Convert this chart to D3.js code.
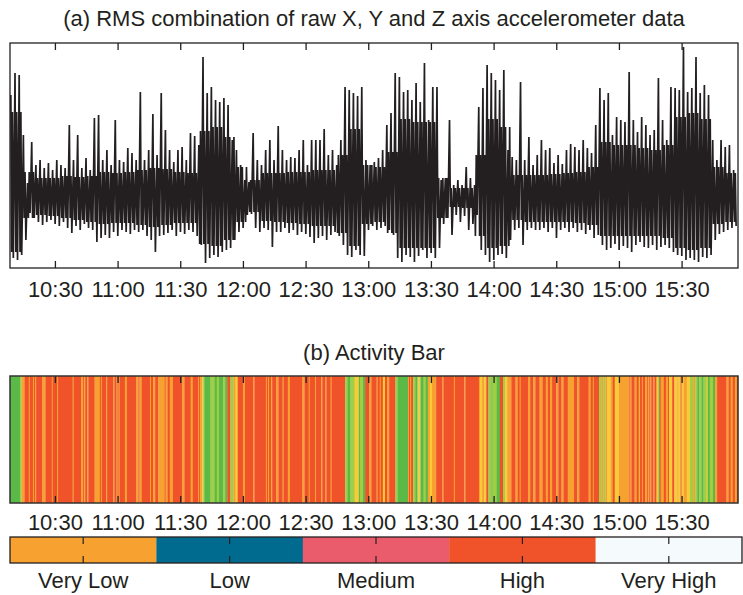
<!DOCTYPE html>
<html><head><meta charset="utf-8">
<script src="https://cdn.jsdelivr.net/npm/d3@7"></script>
<style>
body{margin:0;background:#fff}
svg text{font-family:"Liberation Sans",Arial,Helvetica,sans-serif;fill:#231f20}
</style>
</head><body>
<svg id="chart" width="743" height="595"></svg>
<script>
// ---------------- DATA ----------------
const startClock = [10, 8, 30];   // first sample 10:08:30
const endClock = [15, 57, 0];     // last sample 15:57:00
const tickLabels = ["10:30","11:00","11:30","12:00","12:30","13:00","13:30","14:00","14:30","15:00","15:30"];

// (a) RMS signal, min/max per 2-minute window (arbitrary units, mean removed)
const peakHi = [1.02,1.24,1.22,0.62,0.14,0.55,0.32,0.37,0.29,0.34,
0.27,0.37,0.32,0.29,0.72,0.37,0.62,0.29,0.39,0.27,
0.79,0.82,0.37,0.47,0.32,0.77,0.37,0.35,0.49,0.44,
0.37,1.05,0.37,0.47,0.83,0.42,1.04,0.67,0.47,0.35,
0.47,0.50,0.37,0.64,0.61,0.52,1.40,1.04,1.10,0.97,
0.95,0.99,0.92,0.57,0.47,0.32,0.17,0.15,0.64,0.37,
0.32,0.47,0.57,0.37,0.71,0.47,0.37,0.40,0.39,0.47,
0.57,0.32,0.57,0.57,0.57,0.68,0.42,0.47,0.32,0.57,
1.10,1.07,1.04,1.01,1.10,0.37,0.32,0.35,0.39,0.47,
0.72,0.84,1.24,1.20,1.05,1.07,0.97,1.14,0.95,1.34,
0.77,1.10,1.10,0.17,0.19,0.77,0.12,0.17,0.12,0.30,
0.19,0.12,0.90,1.09,1.32,1.24,1.17,1.07,1.27,0.47,
0.40,0.37,1.15,0.37,0.60,0.32,0.42,0.57,0.47,0.49,
0.34,0.42,0.33,0.47,0.53,0.50,0.47,0.57,0.49,0.44,
0.72,1.09,0.97,1.04,0.62,0.80,0.77,0.75,1.25,0.77,
0.65,0.80,0.72,0.62,0.67,1.19,0.77,0.57,1.10,1.09,
1.07,1.50,1.05,1.09,1.40,1.04,1.12,1.02,0.57,0.37,
0.57,0.50,0.52,0.27];
const peakLo = [-0.61,-0.63,-0.58,-0.43,-0.16,-0.21,-0.25,-0.28,-0.25,-0.23,
-0.27,-0.29,-0.25,-0.31,-0.36,-0.29,-0.33,-0.27,-0.31,-0.33,
-0.45,-0.41,-0.38,-0.41,-0.35,-0.39,-0.33,-0.35,-0.37,-0.33,
-0.35,-0.33,-0.39,-0.43,-0.55,-0.39,-0.38,-0.36,-0.33,-0.39,
-0.35,-0.37,-0.33,-0.35,-0.39,-0.48,-0.66,-0.61,-0.58,-0.60,
-0.55,-0.53,-0.51,-0.43,-0.35,-0.31,-0.18,-0.17,-0.31,-0.35,
-0.31,-0.33,-0.50,-0.35,-0.35,-0.31,-0.36,-0.33,-0.38,-0.35,
-0.37,-0.40,-0.46,-0.41,-0.39,-0.43,-0.38,-0.35,-0.39,-0.48,
-0.58,-0.60,-0.53,-0.58,-0.59,-0.33,-0.29,-0.33,-0.31,-0.29,
-0.33,-0.38,-0.61,-0.65,-0.58,-0.60,-0.65,-0.59,-0.53,-0.61,
-0.56,-0.61,-0.51,-0.27,-0.21,-0.38,-0.18,-0.25,-0.19,-0.33,
-0.27,-0.18,-0.53,-0.58,-0.65,-0.63,-0.58,-0.57,-0.61,-0.43,
-0.33,-0.31,-0.48,-0.33,-0.31,-0.33,-0.33,-0.31,-0.35,-0.31,
-0.41,-0.33,-0.31,-0.35,-0.31,-0.35,-0.33,-0.37,-0.33,-0.41,
-0.38,-0.48,-0.53,-0.51,-0.47,-0.53,-0.49,-0.51,-0.55,-0.48,
-0.45,-0.50,-0.51,-0.48,-0.53,-0.50,-0.48,-0.51,-0.55,-0.58,
-0.59,-0.63,-0.61,-0.63,-0.65,-0.60,-0.61,-0.58,-0.43,-0.37,
-0.35,-0.33,-0.31,-0.29];
// dense band of the signal, per 6-minute window
const coreHi = [0.85,0.25,0.19,0.19,0.21,0.20,0.21,0.25,0.24,0.25,
0.27,0.29,0.28,0.25,0.24,0.66,0.70,0.60,0.30,0.17,
0.24,0.24,0.25,0.25,0.27,0.27,0.42,0.68,0.32,0.30,
0.45,0.78,0.75,0.75,0.19,0.09,0.09,0.42,0.78,0.70,
0.22,0.22,0.22,0.23,0.24,0.25,0.30,0.55,0.52,0.52,
0.49,0.47,0.52,0.80,0.84,0.78,0.30,0.24,0.24];
const coreLo = [-0.55,-0.21,-0.18,-0.19,-0.21,-0.23,-0.25,-0.27,-0.26,-0.26,
-0.28,-0.30,-0.28,-0.26,-0.26,-0.47,-0.49,-0.43,-0.25,-0.15,
-0.24,-0.25,-0.26,-0.27,-0.29,-0.29,-0.36,-0.49,-0.27,-0.25,
-0.36,-0.51,-0.51,-0.51,-0.21,-0.10,-0.11,-0.39,-0.51,-0.49,
-0.23,-0.25,-0.25,-0.25,-0.25,-0.26,-0.28,-0.39,-0.39,-0.39,
-0.39,-0.39,-0.41,-0.51,-0.53,-0.51,-0.27,-0.25,-0.25];

// (b) activity bar: [minutes after start, class]
const activityRuns = [[0,"G"],[5,"L"],[5.5,"O"],[7,"R"],[9,"O"],[9.5,"R"],[11,"O"],[11.5,"R"],[12,"O"],[12.5,"R"],[15.5,"O"],[17,"R"],[20,"O"],[20.5,"R"],[22.5,"O"],[23,"R"],[30,"O"],[30.5,"R"],[34,"O"],[35,"R"],[35.5,"O"],[36,"R"],[37,"O"],[37.5,"R"],[40.5,"O"],[43,"R"],[43.5,"O"],[44,"R"],[46,"O"],[46.5,"R"],[49.5,"O"],[50,"R"],[51,"O"],[51.5,"R"],[52,"O"],[52.5,"R"],[55,"O"],[56,"R"],[60.5,"O"],[61.5,"R"],[62,"O"],[63,"R"],[67,"O"],[67.5,"R"],[68.5,"O"],[69.5,"R"],[71,"O"],[74,"R"],[74.5,"O"],[75.5,"R"],[76.5,"O"],[78,"R"],[82.5,"O"],[83.5,"R"],[86.5,"O"],[87.5,"R"],[90,"O"],[90.5,"R"],[91,"O"],[92,"Y"],[92.5,"L"],[93,"G"],[96,"L"],[98,"G"],[99,"L"],[100,"G"],[102,"L"],[103,"G"],[104,"R"],[105.5,"L"],[107,"O"],[108,"Y"],[109,"R"],[111.5,"O"],[112.5,"R"],
[116.5,"O"],[117,"R"],[122.5,"O"],[123,"R"],[123.5,"O"],[124,"R"],[125,"O"],[125.5,"R"],[127.5,"O"],[128.5,"R"],[130.5,"O"],[131,"R"],[133,"O"],[134,"R"],[140,"O"],[141,"R"],[143,"O"],[143.5,"R"],[146,"O"],[146.5,"R"],[149,"O"],[149.5,"R"],[151,"O"],[151.5,"R"],[153.5,"O"],[154,"R"],[160.5,"L"],[161.5,"G"],[163,"L"],[165,"Y"],[167,"G"],[167.5,"L"],[169,"G"],[170,"R"],[172,"O"],[173,"R"],[175.5,"O"],[176,"R"],[177,"O"],[177.5,"R"],[178.5,"Y"],[179.5,"R"],[180.5,"O"],[181.5,"R"],[184.5,"L"],[185.5,"G"],[190.5,"O"],[191,"R"],[191.5,"O"],[192,"R"],[193,"L"],[194,"G"],[195,"L"],[195.5,"Y"],[196.5,"G"],[198,"L"],[199,"G"],[200,"O"],[201,"Y"],[202,"O"],[204,"R"],[207,"O"],[207.5,"R"],[212.5,"O"],[213,"R"],[217.5,"O"],[218,"R"],[224.5,"O"],[225,"Y"],[226,"O"],[227,"Y"],[228,"R"],[229,"L"],[230.5,"G"],
[231,"L"],[233,"G"],[234.5,"R"],[236,"L"],[237,"Y"],[238,"O"],[240,"R"],[242,"O"],[243,"R"],[244,"O"],[244.5,"R"],[248,"O"],[249,"R"],[250.5,"O"],[251.5,"R"],[253.5,"O"],[255,"R"],[256.5,"O"],[257.5,"R"],[258.5,"O"],[259.5,"R"],[261.5,"O"],[262.5,"R"],[264,"O"],[265,"R"],[267,"O"],[270,"R"],[271.5,"O"],[272.5,"R"],[277,"O"],[278,"R"],[279,"O"],[279.5,"R"],[282,"L"],[283,"O"],[284,"L"],[285,"O"],[286,"Y"],[287.5,"O"],[288.5,"R"],[289.5,"Y"],[291.5,"O"],[296.5,"R"],[297,"O"],[297.5,"R"],[299,"O"],[300,"R"],[301,"Y"],[301.5,"R"],[302.5,"O"],[303,"R"],[304,"O"],[305,"R"],[305.5,"O"],[306,"R"],[306.5,"O"],[307,"R"],[308,"O"],[308.5,"R"],[309.5,"Y"],[310.5,"G"],[311,"R"],[311.5,"O"],[313,"R"],[314,"O"],[315,"R"],[315.5,"Y"],[317,"R"],[318,"Y"],[319.5,"O"],[320,"Y"],[321,"R"],[321.5,"Y"],[322.5,"O"],[324,"Y"],[325.5,"L"],[327,"O"],[328,"L"],[329,"G"],[330,"L"],[331,"G"],[332,"L"],[333.5,"Y"],[334,"G"],[335,"L"],[336.5,"G"],[337.5,"O"],[338.5,"R"],[343,"O"],[344,"R"],[345,"O"],[346,"R"],[347,"O"],[348,"R"]];
const activityColors = {G:"#5bb947", L:"#a0cf45", Y:"#f8cb38", O:"#f7a131", R:"#f0532a"};

// legend
const legendLabels = ["Very Low","Low","Medium","High","Very High"];
const legendColors = ["#f7a131","#006a8f","#ea5c6b","#f0532a","#f5fafd"];

// ---------------- DRAW ----------------
const ink = "#231f20";
const svg = d3.select("#chart");
const T0 = new Date(2000,0,1,...startClock), T1 = new Date(2000,0,1,...endClock);
const at = m => new Date(T0.getTime() + m*60000);
const tickDates = tickLabels.map(s => { const [h,m] = s.split(":").map(Number); return new Date(2000,0,1,h,m,0); });
const x = d3.scaleTime().domain([T0,T1]).range([10,738]);

const A = {top:43, bottom:268};
const y = d3.scaleLinear().domain([-0.71,1.54]).range([A.bottom, A.top]);

svg.append("text").attr("x",374).attr("y",26).attr("text-anchor","middle")
  .style("font-size","22px").text("(a) RMS combination of raw X, Y and Z axis accelerometer data");

svg.append("clipPath").attr("id","clipA").append("rect")
  .attr("x",10).attr("y",A.top).attr("width",728).attr("height",A.bottom-A.top);
const gA = svg.append("g").attr("clip-path","url(#clipA)");

// trace passes through each window's extremes and dense-band edges
const trace = [];
peakHi.forEach((v,i)=>{
  const j = Math.floor(i/3);
  trace.push({t:at(2*i+0.4), v:v});
  trace.push({t:at(2*i+0.8), v:coreLo[j]});
  trace.push({t:at(2*i+1.2), v:coreHi[j]});
  trace.push({t:at(2*i+1.6), v:peakLo[i]});
});
gA.append("path").datum(trace)
  .attr("fill","none").attr("stroke",ink).attr("stroke-width",1.7).attr("stroke-linejoin","miter")
  .attr("d", d3.line().x(d=>x(d.t)).y(d=>y(d.v)));

function timeAxes(top, bottom, labelY){
  const gb = svg.append("g").attr("transform",`translate(0,${bottom})`)
    .call(d3.axisBottom(x).tickValues(tickDates).tickFormat(d3.timeFormat("%H:%M")).tickSizeInner(-7).tickSizeOuter(0));
  gb.select(".domain").remove();
  gb.selectAll("line").attr("stroke",ink).attr("stroke-width",1.3);
  gb.selectAll("text").attr("y",labelY).attr("dy",null).style("font-size","22px")
    .style("font-family",'"Liberation Sans",Arial,sans-serif').attr("fill",ink);
  const gt = svg.append("g").attr("transform",`translate(0,${top})`)
    .call(d3.axisTop(x).tickValues(tickDates).tickFormat("").tickSizeInner(-7).tickSizeOuter(0));
  gt.select(".domain").remove();
  gt.selectAll("line").attr("stroke",ink).attr("stroke-width",1.3);
}
timeAxes(A.top, A.bottom, 29);
svg.append("rect").attr("x",10).attr("y",A.top).attr("width",728).attr("height",A.bottom-A.top)
  .attr("fill","none").attr("stroke",ink).attr("stroke-width",1.3);

// (b)
const B = {top:376, bottom:503};
svg.append("text").attr("x",374).attr("y",360).attr("text-anchor","middle")
  .style("font-size","22px").text("(b) Activity Bar");
svg.append("g").selectAll("rect").data(activityRuns).join("rect")
  .attr("x", d=>x(at(d[0])))
  .attr("width", (d,i)=> x(at(i+1<activityRuns.length ? activityRuns[i+1][0] : 348.5)) - x(at(d[0])) + 0.25)
  .attr("y",B.top).attr("height",B.bottom-B.top)
  .attr("fill", d=>activityColors[d[1]]);
timeAxes(B.top, B.bottom, 27);
svg.append("rect").attr("x",10).attr("y",B.top).attr("width",728).attr("height",B.bottom-B.top)
  .attr("fill","none").attr("stroke","#333").attr("stroke-width",1.5);

// legend
const L = {top:537, bottom:563, left:10, right:742};
const xl = d3.scaleBand().domain(legendLabels).range([L.left,L.right]).padding(0);
const gl = svg.append("g");
gl.selectAll("rect").data(legendLabels).join("rect")
  .attr("x",d=>xl(d)).attr("width",xl.bandwidth()+0.3)
  .attr("y",L.top).attr("height",L.bottom-L.top)
  .attr("fill",(d,i)=>legendColors[i]);
gl.selectAll("line.tt").data(legendLabels).join("line").attr("class","tt")
  .attr("x1",d=>xl(d)+xl.bandwidth()/2).attr("x2",d=>xl(d)+xl.bandwidth()/2)
  .attr("y1",L.top).attr("y2",L.top+7).attr("stroke",ink).attr("stroke-width",1.2);
gl.selectAll("line.tb").data(legendLabels).join("line").attr("class","tb")
  .attr("x1",d=>xl(d)+xl.bandwidth()/2).attr("x2",d=>xl(d)+xl.bandwidth()/2)
  .attr("y1",L.bottom).attr("y2",L.bottom-7).attr("stroke",ink).attr("stroke-width",1.2);
gl.append("rect").attr("x",L.left).attr("y",L.top).attr("width",L.right-L.left).attr("height",L.bottom-L.top)
  .attr("fill","none").attr("stroke",ink).attr("stroke-width",1.3);
gl.selectAll("text").data(legendLabels).join("text")
  .attr("x",d=>xl(d)+xl.bandwidth()/2).attr("y",588).attr("text-anchor","middle")
  .style("font-size","22px").text(d=>d);
</script>
</body></html>
